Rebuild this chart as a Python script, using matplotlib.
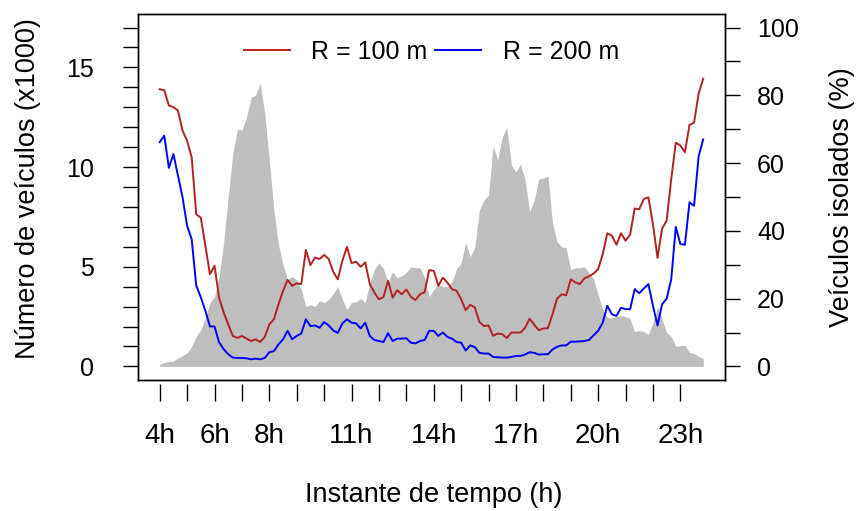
import numpy as np
import matplotlib
matplotlib.use("Agg")
import matplotlib.pyplot as plt

plt.rcParams["font.family"] = ["Liberation Sans", "DejaVu Sans"]

# Time of day in hours, one sample every 10 minutes from 4h00 to 23h50
hours = np.arange(4, 24, 1 / 6)

# Number of vehicles (x1000), grey area on the left axis
vehicles = [
    0.1, 0.2, 0.25, 0.27, 0.43, 0.55, 0.68, 1.0, 1.5, 1.85, 2.4, 3.2,
    3.5, 4.5, 6.2, 8.5, 10.7, 11.9, 11.85, 12.5, 13.5, 13.6, 14.2, 12.7,
    10.3, 7.85, 6.1, 5.1, 4.35, 4.5, 4.35, 3.85, 3.0, 3.1, 3.0, 3.3,
    3.2, 3.35, 3.65, 4.0, 3.35, 2.85, 3.2, 3.25, 3.4, 3.2, 4.2, 4.85,
    5.2, 4.9, 4.2, 4.75, 4.45, 4.55, 4.7, 5.0, 4.95, 4.95, 4.45, 3.5,
    3.85, 4.1, 4.0, 4.0, 4.25, 4.9, 5.2, 6.2, 5.5, 6.0, 7.85, 8.35,
    8.6, 11.05, 10.35, 11.5, 12.0, 10.1, 9.75, 10.15, 9.35, 7.75, 8.35, 9.4,
    9.45, 9.55, 7.2, 6.25, 6.0, 5.95, 4.85, 4.95, 4.95, 5.0, 4.7, 4.4,
    3.6, 2.85, 2.45, 2.45, 2.5, 2.55, 2.5, 2.4, 1.75, 1.8, 1.75, 1.6,
    2.2, 3.0, 2.35, 1.7, 1.5, 1.0, 1.05, 1.05, 0.7, 0.65, 0.5, 0.4,
]

# Isolated vehicles (%) for each communication radius, right axis
isolated_100 = [
    81.8, 81.5, 77.0, 76.5, 75.5, 69.6, 66.6, 61.7, 44.9, 43.9, 35.6, 27.2,
    29.7, 20.3, 15.9, 12.4, 9.0, 8.4, 9.0, 8.2, 7.5, 8.0, 7.2, 8.7,
    12.4, 13.9, 18.3, 22.3, 25.5, 23.8, 24.5, 24.3, 34.4, 29.9, 32.1, 31.7,
    32.9, 31.7, 27.9, 25.7, 31.2, 35.3, 30.5, 30.9, 29.4, 30.7, 24.3, 21.8,
    19.8, 20.5, 25.3, 20.3, 22.5, 21.3, 22.7, 20.5, 19.6, 21.3, 21.9, 28.4,
    28.2, 23.8, 26.2, 24.7, 22.8, 22.3, 19.8, 16.6, 18.2, 17.4, 13.1, 11.9,
    12.1, 9.0, 9.7, 9.5, 8.4, 10.0, 10.0, 10.0, 11.4, 14.1, 12.3, 10.7,
    11.2, 11.3, 15.4, 20.0, 21.3, 21.0, 25.7, 24.8, 24.3, 26.0, 26.6, 27.4,
    28.7, 33.1, 39.3, 38.6, 35.9, 39.3, 37.1, 38.9, 46.6, 46.4, 49.4, 49.9,
    42.0, 32.0, 40.7, 43.0, 55.3, 66.0, 65.2, 63.2, 71.3, 71.9, 80.5, 84.9,
]
isolated_200 = [
    66.2, 68.1, 58.6, 62.7, 56.3, 49.9, 41.5, 37.5, 23.8, 20.4, 16.4, 11.8,
    11.8, 7.1, 5.1, 3.6, 2.6, 2.5, 2.5, 2.4, 2.1, 2.3, 2.1, 2.5,
    4.2, 4.5, 6.5, 8.0, 10.5, 8.0, 9.0, 9.7, 13.9, 11.9, 12.1, 11.4,
    13.1, 12.1, 10.6, 9.9, 12.7, 13.9, 12.9, 12.7, 11.2, 12.9, 9.0, 7.8,
    7.5, 7.2, 9.8, 7.5, 8.2, 8.2, 8.3, 7.0, 6.8, 7.5, 7.8, 10.5,
    10.5, 9.0, 10.0, 8.7, 8.2, 7.2, 7.0, 4.7, 6.2, 5.7, 4.0, 3.8,
    3.8, 2.8, 2.7, 2.6, 2.6, 2.8, 3.1, 3.1, 3.5, 4.2, 4.0, 3.5,
    3.6, 3.6, 5.0, 5.8, 6.2, 6.2, 7.3, 7.3, 7.4, 7.5, 7.8, 9.2,
    10.5, 12.9, 17.9, 15.4, 14.9, 17.3, 16.9, 16.9, 22.8, 21.6, 23.0, 24.3,
    17.9, 12.1, 18.3, 20.0, 25.7, 41.2, 36.1, 35.9, 48.4, 47.4, 62.0, 67.0,
]

hour_ticks = list(range(4, 24))
hour_labels = ["4h", "6h", "8h", "11h", "14h", "17h", "20h", "23h"]
left_ticks = list(range(0, 18))
right_ticks = list(range(0, 101, 10))


def pad_range(lo, hi, frac=0.04):
    span = hi - lo
    return lo - frac * span, hi + frac * span


fig = plt.figure(figsize=(8.57, 5.11), dpi=100)
ax = fig.add_axes([0.1610, 0.2564, 0.6849, 0.7162])

ax.fill_between(hours, 0, vehicles, color="#bebebe", linewidth=0)
ax.set_xlim(*pad_range(hours[0], hours[-1]))
ax.set_ylim(*pad_range(0, 17))

ax.set_yticks(left_ticks)
ax.set_yticklabels([str(v) if v % 5 == 0 else "" for v in left_ticks])
ax.tick_params(axis="y", direction="out", length=11, width=1.0,
               labelsize=18, pad=21)
ax.tick_params(axis="x", bottom=False, labelbottom=False)

# hour ticks drawn slightly below the box
sec = ax.secondary_xaxis(-0.011)
sec.spines["bottom"].set_visible(False)
sec.set_xticks(hour_ticks)
sec.set_xticklabels([f"{h}h" if f"{h}h" in hour_labels else "" for h in hour_ticks])
sec.tick_params(axis="x", direction="out", length=12, width=1.0,
                labelsize=20, pad=16)

ax2 = ax.twinx()
ax2.plot(hours, isolated_100, color="#b22222", linewidth=1.4, label="R = 100 m")
ax2.plot(hours, isolated_200, color="#0000ff", linewidth=1.4, label="R = 200 m")
ax2.set_ylim(*pad_range(0, 100))
ax2.set_yticks(right_ticks)
ax2.set_yticklabels([str(v) if v % 20 == 0 else "" for v in right_ticks])
ax2.tick_params(axis="y", direction="out", length=11, width=1.0,
                labelsize=18, pad=12)

for a in (ax, ax2):
    for s in a.spines.values():
        s.set_linewidth(1.0)

ax2.legend(loc="center", bbox_to_anchor=(0.5, 0.897), ncol=2, frameon=False,
           fontsize=18, handlelength=1.85, handletextpad=0.85,
           columnspacing=0.3)

fig.text(28 / 857, 1 - 189 / 511, "Número de veículos (x1000)", rotation=90,
         ha="center", va="center", fontsize=19.5)
fig.text(842 / 857, 1 - 197 / 511, "Veículos isolados (%)", rotation=90,
         ha="center", va="center", fontsize=19.5)
fig.text(434 / 857, 1 - 495 / 511, "Instante de tempo (h)",
         ha="center", va="center", fontsize=19.5)

fig.savefig("out.png", dpi=100)
